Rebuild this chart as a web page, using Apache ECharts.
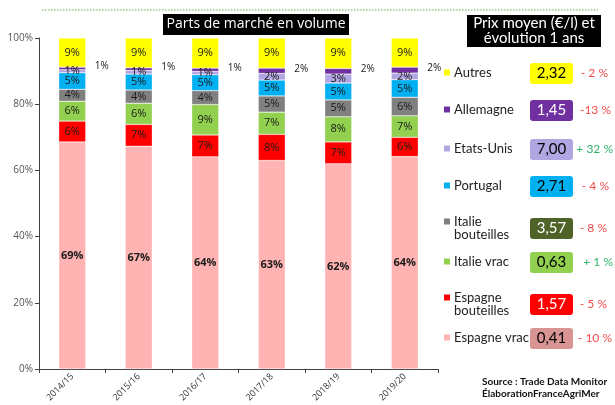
<!DOCTYPE html>
<html><head><meta charset="utf-8">
<script src="https://cdn.jsdelivr.net/npm/echarts@6/dist/echarts.min.js"></script>
<style>html,body{margin:0;padding:0;background:#fff}#c{width:615px;height:405px}</style>
</head><body><div id="c"></div>
<script>
var categories = ['2014/15','2015/16','2016/17','2017/18','2018/19','2019/20'];
var espagneVrac       = [68.6, 67.3, 64.1, 63.0, 62.0, 64.2];
var espagneBouteilles = [6.3, 6.6, 6.6, 7.9, 6.6, 5.8];
var italieVrac        = [6.0, 6.4, 9.2, 6.7, 7.6, 6.5];
var italieBouteilles  = [3.6, 4.0, 4.2, 4.9, 5.1, 5.6];
var portugal          = [5.0, 4.8, 4.8, 4.8, 5.1, 5.3];
var etatsUnis         = [0.9, 1.1, 1.0, 2.0, 2.7, 2.0];
var allemagne         = [0.8, 0.8, 1.0, 1.6, 1.7, 1.8];
var autres            = [8.8, 9.0, 9.1, 9.1, 9.2, 8.8];
var yTicks = ['0%','20%','40%','60%','80%','100%'];

// legend / price panel (top to bottom)
var legendNames = ['Autres','Allemagne','Etats-Unis','Portugal','Italie\nbouteilles','Italie vrac','Espagne\nbouteilles','Espagne vrac'];
var prices      = ['2,32','1,45','7,00','2,71','3,57','0,63','1,57','0,41'];
var evolutions  = ['- 2 %','-13 %','+ 32 %','- 4 %','- 8 %','+ 1 %','- 5 %','- 10 %'];

var FONT = '"Open Sans", "Noto Sans", sans-serif';
var PFONT = 'Lato, "Open Sans", sans-serif';
var barColors = {
  ev:'#ffb3b3', eb:'#ff0000', iv:'#92d050', ib:'#808080', pt:'#00b0f0', us:'#b1a6e2', de:'#7030a0', au:'#ffff00'
};
var legendMarkColors = ['#ffff00','#7030a0','#b1a6e2','#00b0f0','#808080','#92d050','#ff0000','#ffb3b3'];
var boxColors = ['#ffff00','#7030a0','#b1a6e2','#00b0f0','#4f6228','#92d050','#ff0000','#d99594'];
var boxText   = ['#000','#fff','#000','#000','#fff','#000','#fff','#000'];
var rowY = [73, 110, 149, 186, 228, 262, 304, 338];
var evolRight = [608, 611, 613, 609, 607, 613, 607, 612];

function mk(name, data, color, opts) {
  opts = opts || {};
  return {
    name: name, type: 'bar', stack: 'all', data: data, barWidth: 27,
    itemStyle: { color: color, borderColor: 'rgba(255,255,255,0.6)', borderWidth: 0.5 },
    label: {
      show: opts.show !== false,
      position: opts.position || 'inside',
      offset: opts.offset || [0,0],
      fontFamily: FONT, fontSize: opts.fontSize || 11, color: '#1a1a1a',
      fontWeight: opts.bold ? 'bold' : 'normal',
      formatter: function (p) { return Math.round(p.value) + '%'; }
    }
  };
}

var graphic = [
  { type:'line', shape:{x1:42,y1:10,x2:598,y2:10}, style:{stroke:'#6aaa3a', lineWidth:1, lineDash:[1.5,1.5]} },
  { type:'rect', shape:{x:163,y:14,width:186,height:21}, style:{fill:'#000'} },
  { type:'text', x:256, y:24.5, style:{text:'Parts de marché en volume', fill:'#fff', font:'14px '+FONT, textAlign:'center', textVerticalAlign:'middle'} },
  { type:'rect', shape:{x:467,y:15,width:134,height:32}, style:{fill:'#000'} },
  { type:'text', x:534, y:31, style:{text:'Prix moyen (€/l) et\névolution 1 ans', fill:'#fff', font:'15px '+PFONT, lineHeight:15, textAlign:'center', textVerticalAlign:'middle'} },
  { type:'text', x:482, y:388, style:{text:'Source : Trade Data Monitor\nÉlaborationFranceAgriMer', fill:'#111', font:'bold 10px '+PFONT, lineHeight:12, textAlign:'left', textVerticalAlign:'middle'} }
];
legendNames.forEach(function (n, i) {
  var y = rowY[i];
  var two = n.indexOf('\n') >= 0;
  var ty = two ? y - 6 : y;
  graphic.push({ type:'rect', shape:{x:444,y:ty-3.5,width:6,height:6}, style:{fill:legendMarkColors[i]} });
  graphic.push({ type:'text', x:454, y: y, style:{text:n, fill:'#222', font:'13px '+PFONT, lineHeight:13, textAlign:'left', textVerticalAlign:'middle'} });
  graphic.push({ type:'rect', shape:{x:530,y:y-10,width:43,height:21,r:3}, style:{fill:boxColors[i]} });
  graphic.push({ type:'text', x:551.5, y:y+0.5, style:{text:prices[i], fill:boxText[i], font:'15px '+PFONT, textAlign:'center', textVerticalAlign:'middle'} });
  var pos = evolutions[i].charAt(0) === '+';
  graphic.push({ type:'text', x:evolRight[i], y:y, style:{text:evolutions[i], fill:pos?'#2fb36a':'#f24a4a', font:'12px '+PFONT, textAlign:'right', textVerticalAlign:'middle'} });
});

var chart = echarts.init(document.getElementById('c'), null, {renderer:'canvas'});
chart.setOption({
  animation: false,
  grid: { left: 39, right: 177, top: 38, bottom: 36 },
  xAxis: {
    type: 'category', data: categories,
    axisLine: { lineStyle: { color: '#404040', width: 1 } },
    axisTick: { show: true, alignWithLabel: false, length: 4, lineStyle:{color:'#404040'} },
    axisLabel: { rotate: 45, fontSize: 9, fontFamily: FONT, color: '#333', margin: 6 }
  },
  yAxis: {
    type: 'value', min: 0, max: 100, interval: 20,
    axisLine: { show: true, lineStyle: { color: '#404040', width: 1 } },
    axisTick: { show: true, length: 4, lineStyle:{color:'#404040'} },
    splitLine: { show: false },
    axisLabel: { fontSize: 10, fontFamily: FONT, color: '#555', margin: 6,
      formatter: function (v) { return yTicks[v / 20]; } }
  },
  series: [
    mk('Espagne vrac', espagneVrac, barColors.ev, {bold:true, fontSize:11}),
    mk('Espagne bouteilles', espagneBouteilles, barColors.eb),
    mk('Italie vrac', italieVrac, barColors.iv),
    mk('Italie bouteilles', italieBouteilles, barColors.ib),
    mk('Portugal', portugal, barColors.pt),
    mk('Etats-Unis', etatsUnis, barColors.us),
    mk('Allemagne', allemagne, barColors.de, {position:'right', offset:[4,-2], fontSize:10}),
    mk('Autres', autres, barColors.au)
  ],
  graphic: graphic
});
</script></body></html>
